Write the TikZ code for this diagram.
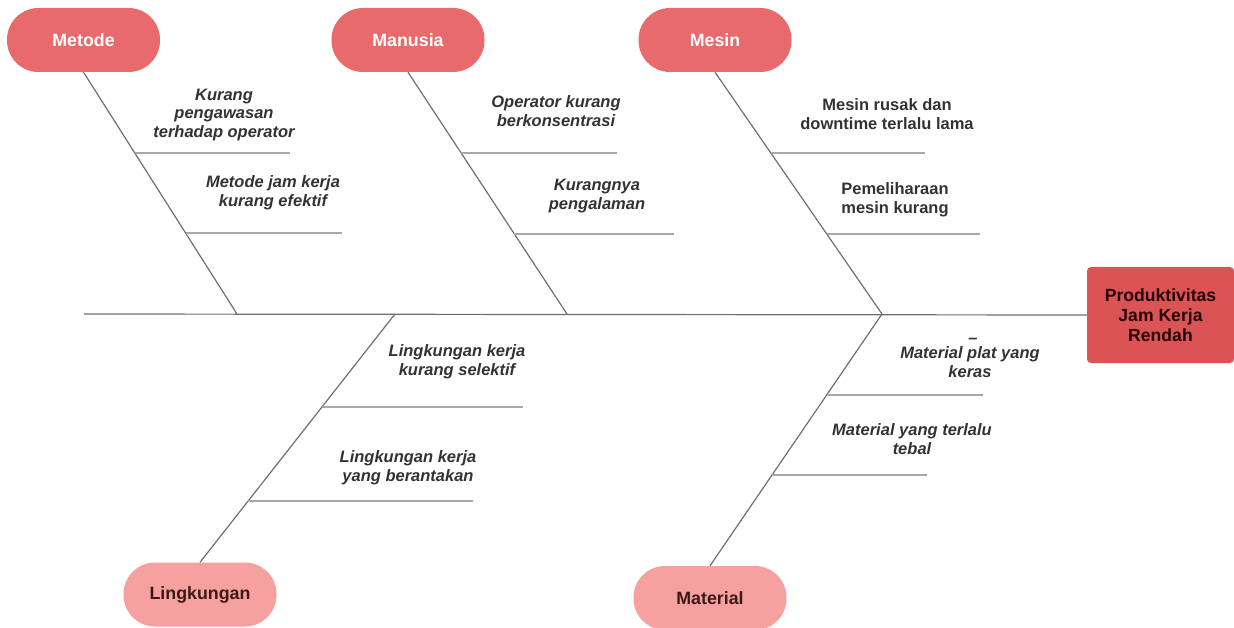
\documentclass[tikz,border=0pt]{standalone}
\usepackage{fontspec}
\setmainfont{Liberation Sans}
\usetikzlibrary{calc}
\definecolor{pilltop}{RGB}{232,106,108}
\definecolor{pillbot}{RGB}{246,160,160}
\definecolor{effectcol}{RGB}{218,84,86}
\definecolor{bonecol}{RGB}{110,110,110}
\definecolor{subcol}{RGB}{168,168,168}
\definecolor{labcol}{RGB}{50,50,50}
\definecolor{darktext}{RGB}{60,24,24}
\begin{document}
\begin{tikzpicture}[x=1pt,y=-1pt,
  toppill/.style={rectangle,rounded corners=31.5pt,fill=pilltop,minimum width=153pt,minimum height=64pt,inner sep=0pt,text=white,font=\fontsize{17.8}{20}\selectfont\bfseries},
  botpill/.style={rectangle,rounded corners=31.5pt,fill=pillbot,minimum width=153pt,minimum height=64pt,inner sep=0pt,text=darktext,font=\fontsize{17.8}{20}\selectfont\bfseries},
  effectbox/.style={rectangle,rounded corners=4pt,fill=effectcol,minimum width=147pt,minimum height=96pt,inner sep=0pt,align=center,text=black!85!red,font=\fontsize{17.6}{19.8}\selectfont\bfseries},
  bone/.style={draw=bonecol,line width=1.2pt},
  subbone/.style={draw=subcol,line width=1.5pt},
  causelab/.style={align=center,inner sep=0pt,text=labcol,font=\fontsize{16.5}{18.8}\selectfont\bfseries\itshape},
  causeup/.style={align=center,inner sep=0pt,text=labcol,font=\fontsize{16.5}{18.8}\selectfont\bfseries}]
\useasboundingbox (0,0) rectangle (1234,628);

% category nodes
\node[toppill] (metode) at (83.5,40) {Metode};
\node[toppill] (manusia) at (408,40) {Manusia};
\node[toppill] (mesin) at (715,40) {Mesin};
\node[botpill] (lingk) at (200,594.5) {Lingkungan};
\node[botpill] (material) at (710,598) {Material};
\node[effectbox] (effect) at (1160.5,315) {Produktivitas\\Jam Kerja\\Rendah};

% spine
\coordinate (tail) at (84,314);
\draw[bone] (tail) -- (effect.west);

% joints on spine
\coordinate (jMet) at (237,314);
\coordinate (jMan) at (567,314);
\coordinate (jMes) at (882,314);
\coordinate (jLin) at (395,314);
\coordinate (jMat) at (882,314);

% main bones
\draw[bone] (metode.south) -- (jMet);
\draw[bone] (manusia.south) -- (jMan);
\draw[bone] (mesin.south) -- (jMes);
\draw[bone] (jLin) -- (lingk.north);
\draw[bone] (jMat) -- (material.north);

% sub bones
\coordinate (s1) at ($(metode.south)!0.335!(jMet)$);
\coordinate (s2) at ($(metode.south)!0.665!(jMet)$);
\coordinate (s3) at ($(manusia.south)!0.335!(jMan)$);
\coordinate (s4) at ($(manusia.south)!0.669!(jMan)$);
\coordinate (s5) at ($(mesin.south)!0.335!(jMes)$);
\coordinate (s6) at ($(mesin.south)!0.669!(jMes)$);
\coordinate (s7) at ($(jLin)!0.375!(lingk.north)$);
\coordinate (s8) at ($(jLin)!0.754!(lingk.north)$);
\coordinate (s9) at ($(jMat)!0.321!(material.north)$);
\coordinate (s10) at ($(jMat)!0.639!(material.north)$);
\draw[subbone] (s1) -- ++(155,0);
\draw[subbone] (s2) -- ++(156,0);
\draw[subbone] (s3) -- ++(156,0);
\draw[subbone] (s4) -- ++(160,0);
\draw[subbone] (s5) -- ++(154,0);
\draw[subbone] (s6) -- ++(153,0);
\draw[subbone] (s7) -- ++(201,0);
\draw[subbone] (s8) -- ++(225,0);
\draw[subbone] (s9) -- ++(156,0);
\draw[subbone] (s10) -- ++(155,0);

% cause labels
\node[causelab] (c1) at (224,115) {Kurang\\pengawasan\\terhadap operator};
\node[causelab] (c2) at (273,193) {Metode jam kerja\\kurang efektif};
\node[causelab] (c3) at (556,111) {Operator kurang\\berkonsentrasi};
\node[causelab] (c4) at (597,196) {Kurangnya\\pengalaman};
\node[causeup] (c5) at (887,114) {Mesin rusak dan\\downtime terlalu lama};
\node[causeup] (c6) at (895,200) {Pemeliharaan\\mesin kurang};
\node[causelab] (c7dash) at (973,341) {–};
\node[causelab] (c7) at (970,362) {Material plat yang\\keras};
\node[causelab] (c8) at (912,439) {Material yang terlalu\\tebal};
\node[causelab] (c9) at (457,362) {Lingkungan kerja\\kurang selektif};
\node[causelab] (c10) at (408,468) {Lingkungan kerja\\yang berantakan};
\end{tikzpicture}
\end{document}
